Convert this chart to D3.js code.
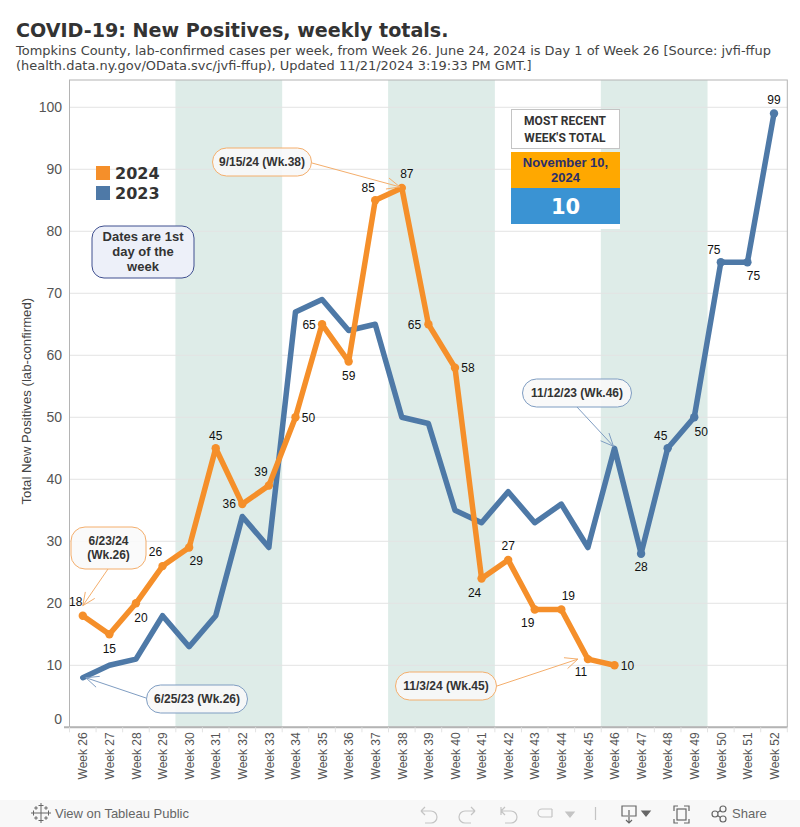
<!DOCTYPE html>
<html><head><meta charset="utf-8">
<script src="https://cdn.jsdelivr.net/npm/d3@7"></script>
<style>
html,body{margin:0;padding:0;background:#fff;}
svg{display:block;}
text{font-family:"Liberation Sans",Arial,sans-serif;}
</style></head><body><svg id="c" width="800" height="827"></svg>
<script>
const weeks = d3.range(26, 53).map(w => "Week " + w);
const values2023 = [8,10,11,18,13,18,34,29,67,69,64,65,50,49,35,33,38,33,36,29,45,28,45,50,75,75,99];
const values2024 = [18,15,20,26,29,45,36,39,50,65,59,85,87,65,58,24,27,19,19,11,10];
const yTicks = [0,10,20,30,40,50,60,70,80,90,100];
const shadedWeeks = [["Week 30","Week 33"],["Week 38","Week 41"],["Week 46","Week 49"]];
const labels2024 = {0:[-7,-14],1:[0,14],2:[5,14],3:[-7,-14],4:[7,13],5:[0,-13],6:[-13,0],7:[-8,-14],8:[13,0],9:[-13,0],10:[0,14],11:[-7,-13],12:[5,-14],13:[-14,0],14:[13,0],15:[-7,14],16:[0,-14],17:[-7,13],18:[7,-14],19:[-7,13],20:[13,0]};
const labels2023 = {21:[0,13],22:[-7,-13],23:[7,14],24:[-7,-13],25:[6,13],26:[0,-14]};

const svg = d3.select("#c");
const margin = {left:69.5, right:787.3, top:80, bottom:727.3};
const x = d3.scalePoint().domain(weeks).range([margin.left, margin.right]).padding(0.5);
const y = d3.scaleLinear().domain([0,104.4]).range([margin.bottom, margin.top]);
const step = x.step();
const blue = "#4e79a7", orange = "#f58f2a";

// footer
svg.append("rect").attr("x",0).attr("y",800).attr("width",800).attr("height",27).attr("fill","#f8f8f8");

// title
svg.append("text").attr("x",16).attr("y",37).attr("font-size",19.1).attr("font-weight",700)
  .style("font-family","'DejaVu Sans'").attr("fill","#333").text("COVID-19: New Positives, weekly totals.");
const sub = ["Tompkins County, lab-confirmed cases per week, from Week 26. June 24, 2024 is Day 1 of Week 26 [Source: jvfi-ffup",
 "(health.data.ny.gov/OData.svc/jvfi-ffup), Updated 11/21/2024 3:19:33 PM GMT.]"];
sub.forEach((s,i)=>svg.append("text").attr("x",16).attr("y",54.5+i*15).attr("font-size",12.96)
  .style("font-family","'DejaVu Sans'").attr("fill","#444").text(s));

// bands
svg.selectAll("rect.band").data(shadedWeeks).join("rect").attr("class","band")
  .attr("x",d=>x(d[0])-step/2-0.4).attr("width",d=>x(d[1])-x(d[0])+step+0.4)
  .attr("y",margin.top).attr("height",margin.bottom-margin.top).attr("fill","#deece8");

// grid
svg.selectAll("line.grid").data(yTicks.filter(d=>d>0)).join("line").attr("class","grid")
  .attr("x1",margin.left).attr("x2",margin.right).attr("y1",d=>y(d)).attr("y2",d=>y(d))
  .attr("stroke","#e3e3e3").attr("stroke-width",1);

// frame
svg.append("rect").attr("x",margin.left).attr("y",margin.top).attr("width",margin.right-margin.left)
  .attr("height",margin.bottom-margin.top).attr("fill","none").attr("stroke","#b4b4b4").attr("stroke-width",1);
svg.append("line").attr("x1",64).attr("x2",margin.right).attr("y1",margin.bottom).attr("y2",margin.bottom)
  .attr("stroke","#b4b4b4").attr("stroke-width",2);

// y tick labels
svg.selectAll("text.yt").data(yTicks).join("text").attr("class","yt")
  .attr("x",62).attr("y",d=>d===0?y(d)-3:y(d)+5).attr("text-anchor","end").attr("font-size",14)
  .attr("fill","#555").text(d=>d);
svg.append("text").attr("transform",`translate(31,${y(52.6)}) rotate(-90)`).attr("text-anchor","middle")
  .attr("font-size",13.2).attr("fill","#444").text("Total New Positives (lab-confirmed)");

// x axis
const xa = svg.append("g").attr("transform",`translate(0,${margin.bottom})`)
  .call(d3.axisBottom(x).tickSize(0));
xa.select(".domain").remove();
xa.selectAll("text").attr("font-size",12).attr("fill","#555")
  .attr("text-anchor","end").attr("dy",null)
  .attr("x",0).attr("y",0)
  .attr("transform","translate(4.2,5) rotate(-90)");
svg.selectAll("line.xt").data(d3.range(0,28)).join("line").attr("class","xt")
  .attr("x1",i=>margin.left+i*step).attr("x2",i=>margin.left+i*step)
  .attr("y1",margin.bottom).attr("y2",margin.bottom+5).attr("stroke","#e3e3e3");

// lines
const line = d3.line().x((d,i)=>x(weeks[i])).y(d=>y(d));
svg.append("path").datum(values2023).attr("d",line).attr("fill","none").attr("stroke",blue)
  .attr("stroke-width",5.5).attr("stroke-linejoin","round").attr("stroke-linecap","round");
svg.append("path").datum(values2024).attr("d",line).attr("fill","none").attr("stroke",orange)
  .attr("stroke-width",5.5).attr("stroke-linejoin","round").attr("stroke-linecap","round");

// markers
svg.selectAll("circle.m24").data(values2024).join("circle").attr("class","m24")
  .attr("cx",(d,i)=>x(weeks[i])).attr("cy",d=>y(d)).attr("r",4.2).attr("fill",orange);
svg.selectAll("circle.m23").data(values2023.map((v,i)=>({v,i})).filter(d=>labels2023[d.i])).join("circle")
  .attr("cx",d=>x(weeks[d.i])).attr("cy",d=>y(d.v)).attr("r",4.2).attr("fill",blue);

// value labels
function vlabel(v,i,off){
  svg.append("text").attr("x",x(weeks[i])+off[0]).attr("y",y(v)+off[1]+4.3).attr("text-anchor","middle")
    .attr("font-size",12).attr("fill","#111").text(v);
}
values2024.forEach((v,i)=>vlabel(v,i,labels2024[i]));
values2023.forEach((v,i)=>{ if(labels2023[i]) vlabel(v,i,labels2023[i]); });

// callouts
function callout(lines,cx,cy,w,h,r,color,fill,target,from){
  const [tx,ty]=target;
  const [fx,fy]=from;
  svg.append("line").attr("x1",fx).attr("y1",fy).attr("x2",tx).attr("y2",ty).attr("stroke",color).attr("stroke-width",1);
  const a=Math.atan2(fy-ty,fx-tx), L=14;
  [-0.42,0.42].forEach(o=>svg.append("line").attr("x1",tx).attr("y1",ty)
     .attr("x2",tx+L*Math.cos(a+o)).attr("y2",ty+L*Math.sin(a+o)).attr("stroke",color).attr("stroke-width",1));
  svg.append("rect").attr("x",cx-w/2).attr("y",cy-h/2).attr("width",w).attr("height",h).attr("rx",r)
    .attr("fill",fill).attr("fill-opacity",0.9).attr("stroke",color).attr("stroke-width",1);
  lines.forEach((t,i)=>svg.append("text").attr("x",cx).attr("y",cy+4+(i-(lines.length-1)/2)*14.5)
    .attr("text-anchor","middle").attr("font-size",12).attr("font-weight",700).attr("fill","#333").text(t));
}
const lightO="#f4ae6c", lightB="#7f9dc2";
callout(["9/15/24 (Wk.38)"],262,162,99,28,14,lightO,"#f8f8f8",[x("Week 38")-2,y(87)-1],[312,163]);
callout(["6/23/24","(Wk.26)"],108.5,548,75,42,14,lightO,"#fafafa",[x("Week 26"),y(18)-10],[108,569]);
callout(["6/25/23 (Wk.26)"],197,699,101,28,14,lightB,"#f8f8f8",[x("Week 26")+3,y(8)],[146,698]);
callout(["11/3/24 (Wk.45)"],446,686,101,28,14,lightO,"#f8f8f8",[x("Week 45")-10,y(11)],[497,686]);
callout(["11/12/23 (Wk.46)"],577,393,109,28,14,lightB,"#f8f8f8",[x("Week 46")-1,y(45)-2],[577,407]);

// dates note
svg.append("rect").attr("x",92).attr("y",226).attr("width",102).attr("height",52).attr("rx",12)
  .attr("fill","#edf0f9").attr("stroke","#3f4f8f").attr("stroke-width",1);
["Dates are 1st","day of the","week"].forEach((t,i)=>svg.append("text").attr("x",143).attr("y",241+i*15)
  .attr("text-anchor","middle").attr("font-size",13).attr("font-weight",700).attr("fill","#333").text(t));

// legend
[["2024",orange,173],["2023",blue,193]].forEach(([t,c,cy])=>{
  svg.append("rect").attr("x",96).attr("y",cy-7).attr("width",14).attr("height",14).attr("fill",c);
  svg.append("text").attr("x",115).attr("y",cy+6).attr("font-size",16).attr("font-weight",700)
    .style("font-family","'DejaVu Sans'").attr("fill","#333").text(t);
});

// KPI
svg.append("rect").attr("x",511).attr("y",224).attr("width",109).attr("height",5).attr("fill","#fff");
svg.append("rect").attr("x",511.5).attr("y",109.5).attr("width",108).attr("height",39).attr("fill","#fff").attr("stroke","#c4c4c4");
["MOST RECENT","WEEK'S TOTAL"].forEach((t,i)=>svg.append("text").attr("x",565).attr("y",125+i*17)
  .attr("text-anchor","middle").attr("font-size",12).attr("font-weight",700).style("font-family","Roboto").style("letter-spacing","0.1px").attr("fill","#333").text(t));
svg.append("rect").attr("x",511).attr("y",152).attr("width",109).attr("height",36).attr("fill","#ffa800");
["November 10,","2024"].forEach((t,i)=>svg.append("text").attr("x",565.5).attr("y",167+i*14.5)
  .attr("text-anchor","middle").attr("font-size",13).attr("font-weight",700).attr("fill","#2b2f6b").text(t));
svg.append("rect").attr("x",511).attr("y",188).attr("width",109).attr("height",36).attr("fill","#3a93d3");
svg.append("text").attr("x",565.5).attr("y",214).attr("text-anchor","middle").attr("font-size",21).attr("font-weight",700)
  .style("font-family","'DejaVu Sans'").attr("fill","#fff").text("10");

// footer text
svg.append("text").attr("x",55).attr("y",818).attr("font-size",13).attr("fill","#666").text("View on Tableau Public");
svg.append("text").attr("x",732).attr("y",818).attr("font-size",13).attr("fill","#666").text("Share");
// footer icons
const ic = svg.append("g").attr("stroke","#666").attr("fill","none").attr("stroke-width",1);
[[41,813,5],[41,805.5,2.5],[41,820.5,2.5],[33.5,813,2.5],[48.5,813,2.5],[36,808,1.8],[46,808,1.8],[36,818,1.8],[46,818,1.8]].forEach(([a,b,r])=>{
  ic.append("line").attr("x1",a-r).attr("x2",a+r).attr("y1",b).attr("y2",b);
  ic.append("line").attr("x1",a).attr("x2",a).attr("y1",b-r).attr("y2",b+r);
});
const gr = svg.append("g").attr("stroke","#c4c4c4").attr("fill","none").attr("stroke-width",1.2);
gr.append("path").attr("d","M421 811 h10 a6 6 0 0 1 0 12 h-6 M421 811 l4 -4 M421 811 l4 4");
gr.append("path").attr("d","M475 811 h-10 a6 6 0 0 0 0 12 h6 M475 811 l-4 -4 M475 811 l-4 4");
gr.append("path").attr("d","M501 811 h10 a6 6 0 0 1 0 12 h-6 M501 807 v8 M501 811 l4 -4 M501 811 l4 4");
gr.append("path").attr("d","M538 813 a4 4 0 0 1 4 -4 h10 M552 809 v8 M538 813 a4 4 0 0 0 4 4 h10");
gr.append("path").attr("d","M566 812 h8 l-4 5 z").attr("fill","#c4c4c4");
gr.append("line").attr("x1",595.5).attr("x2",595.5).attr("y1",807).attr("y2",820);
const dk = svg.append("g").attr("stroke","#666").attr("fill","none").attr("stroke-width",1.2);
dk.append("path").attr("d","M628 816 h-6 v-10 h14 v10 h-6 M629 810 v13 M626 820 l3 3 l3 -3");
dk.append("path").attr("d","M642 811 h8 l-4 5 z").attr("fill","#666");
dk.append("path").attr("d","M674 811 v-5 h4 M684 806 h5 v5 M689 819 v4 h-5 M678 823 h-4 v-4");
dk.append("rect").attr("x",677).attr("y",809).attr("width",9).attr("height",11);
dk.append("circle").attr("cx",715).attr("cy",814).attr("r",3);
dk.append("circle").attr("cx",723).attr("cy",809).attr("r",3);
dk.append("circle").attr("cx",723).attr("cy",819).attr("r",3);
dk.append("path").attr("d","M717.5 812.5 L720.5 810.5 M717.5 815.5 L720.5 817.5");
</script></body></html>
